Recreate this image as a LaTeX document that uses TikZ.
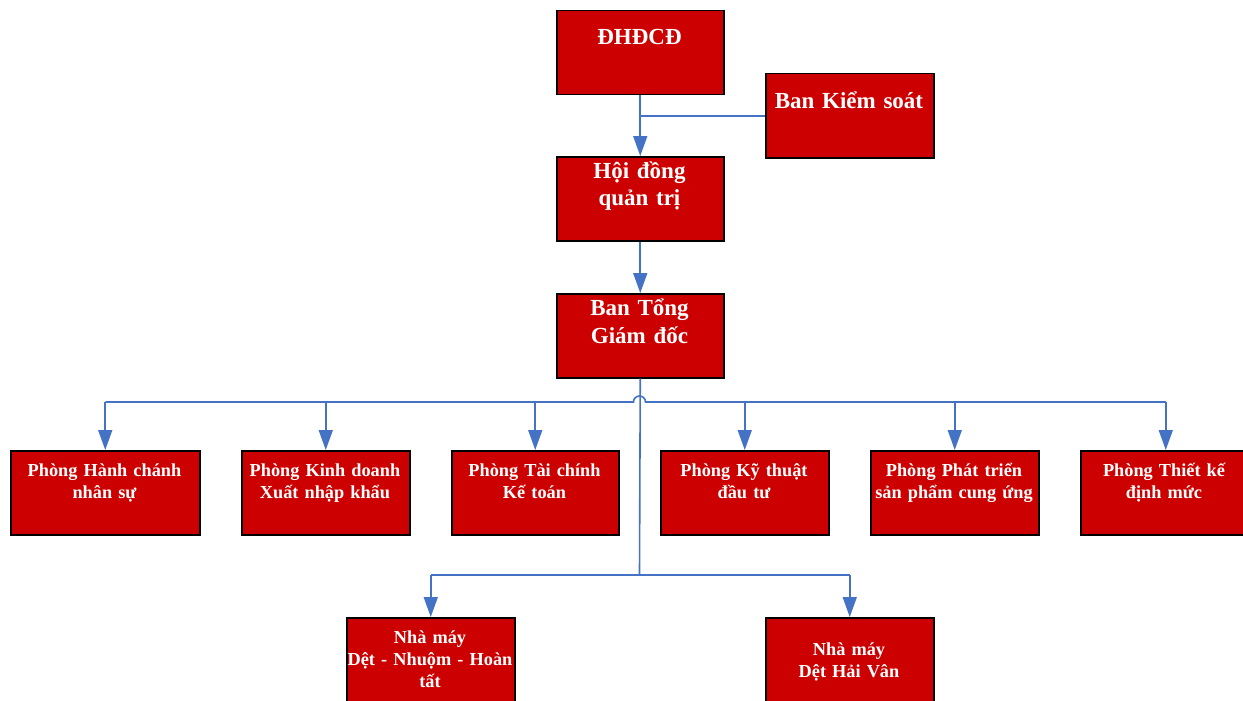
\documentclass[tikz,border=0pt]{standalone}
\usepackage{fontspec}
\setmainfont{Liberation Serif}
\usetikzlibrary{arrows.meta}
\definecolor{boxred}{HTML}{CC0000}
\definecolor{linkblue}{HTML}{4472C4}
\begin{document}
\begin{tikzpicture}[x=1pt,y=-1pt,
  box/.style={draw=black,line width=1.5pt,fill=boxred,minimum width=#1,minimum height=84pt,inner sep=0pt,anchor=north west},
  box/.default=167pt,
  bigtxt/.style={text=white,font=\bfseries\fontsize{23}{28}\selectfont,align=center,inner sep=0pt,anchor=base,text width=180pt},
  smalltxt/.style={text=white,font=\bfseries\fontsize{18.3}{22}\selectfont,align=center,inner sep=0pt,anchor=base,text width=185pt},
  link/.style={draw=linkblue,line width=1.6pt},
  arr/.style={link,-{Triangle[width=14pt,length=20pt]}}]
\useasboundingbox (0,0) rectangle (1243,701);
% boxes
\node[box] (dhdcd) at (556,10) {};
\node[box=168pt] (bks) at (765,73) {};
\node[box] (hdqt) at (556,156) {};
\node[box] (btgd) at (556,293) {};
\node[box=189pt] (p1) at (10,450) {};
\node[box=168pt] (p2) at (241,450) {};
\node[box] (p3) at (451,450) {};
\node[box=168pt] (p4) at (660,450) {};
\node[box=168pt] (p5) at (870,450) {};
\node[box=170pt] (p6) at (1080,450) {};
\node[box=168pt] (nm1) at (346,617) {};
\node[box=168pt] (nm2) at (765,617) {};
% texts
\node[bigtxt] (dhdcdT) at (639.5,45) {ĐHĐCĐ};
\node[bigtxt] (bksT) at (849,108) {Ban Kiểm soát};
\node[bigtxt] (hdqtT) at (639.5,178) {Hội đồng\\quản trị};
\node[bigtxt] (btgdT) at (639.5,315) {Ban Tổng\\Giám đốc};
\node[smalltxt] (p1T) at (104.5,476) {Phòng Hành chánh\\nhân sự};
\node[smalltxt] (p2T) at (325,476) {Phòng Kinh doanh\\Xuất nhập khẩu};
\node[smalltxt] (p3T) at (534.5,476) {Phòng Tài chính\\Kế toán};
\node[smalltxt] (p4T) at (744,476) {Phòng Kỹ thuật\\đầu tư};
\node[smalltxt] (p5T) at (954,476) {Phòng Phát triển\\sản phẩm cung ứng};
\node[smalltxt] (p6T) at (1164,476) {Phòng Thiết kế\\định mức};
\node[smalltxt] (nm1T) at (430,643) {Nhà máy\\Dệt - Nhuộm - Hoàn\\tất};
\node[smalltxt] (nm2T) at (849,655) {Nhà máy\\Dệt Hải Vân};
% connectors
\draw[arr] (dhdcd.south) -- (hdqt.north);
\draw[link] (bks.west) -- (bks.west -| dhdcd.south);
\draw[arr] (hdqt.south) -- (btgd.north);
\coordinate (hop) at (639.5,402);
\coordinate (split) at (639.5,575);
\draw[link] (btgd.south) -- (split);
\draw[link] (p1.north |- hop) -- ([xshift=-6pt]hop) arc[start angle=180,end angle=360,radius=6] -- (p6.north |- hop);
\foreach \p in {p1,p2,p3,p4,p5,p6} \draw[arr] (\p.north |- hop) -- (\p.north);
\draw[link] (nm1.north |- split) -- (nm2.north |- split);
\draw[arr] (nm1.north |- split) -- (nm1.north);
\draw[arr] (nm2.north |- split) -- (nm2.north);
\end{tikzpicture}
\end{document}
